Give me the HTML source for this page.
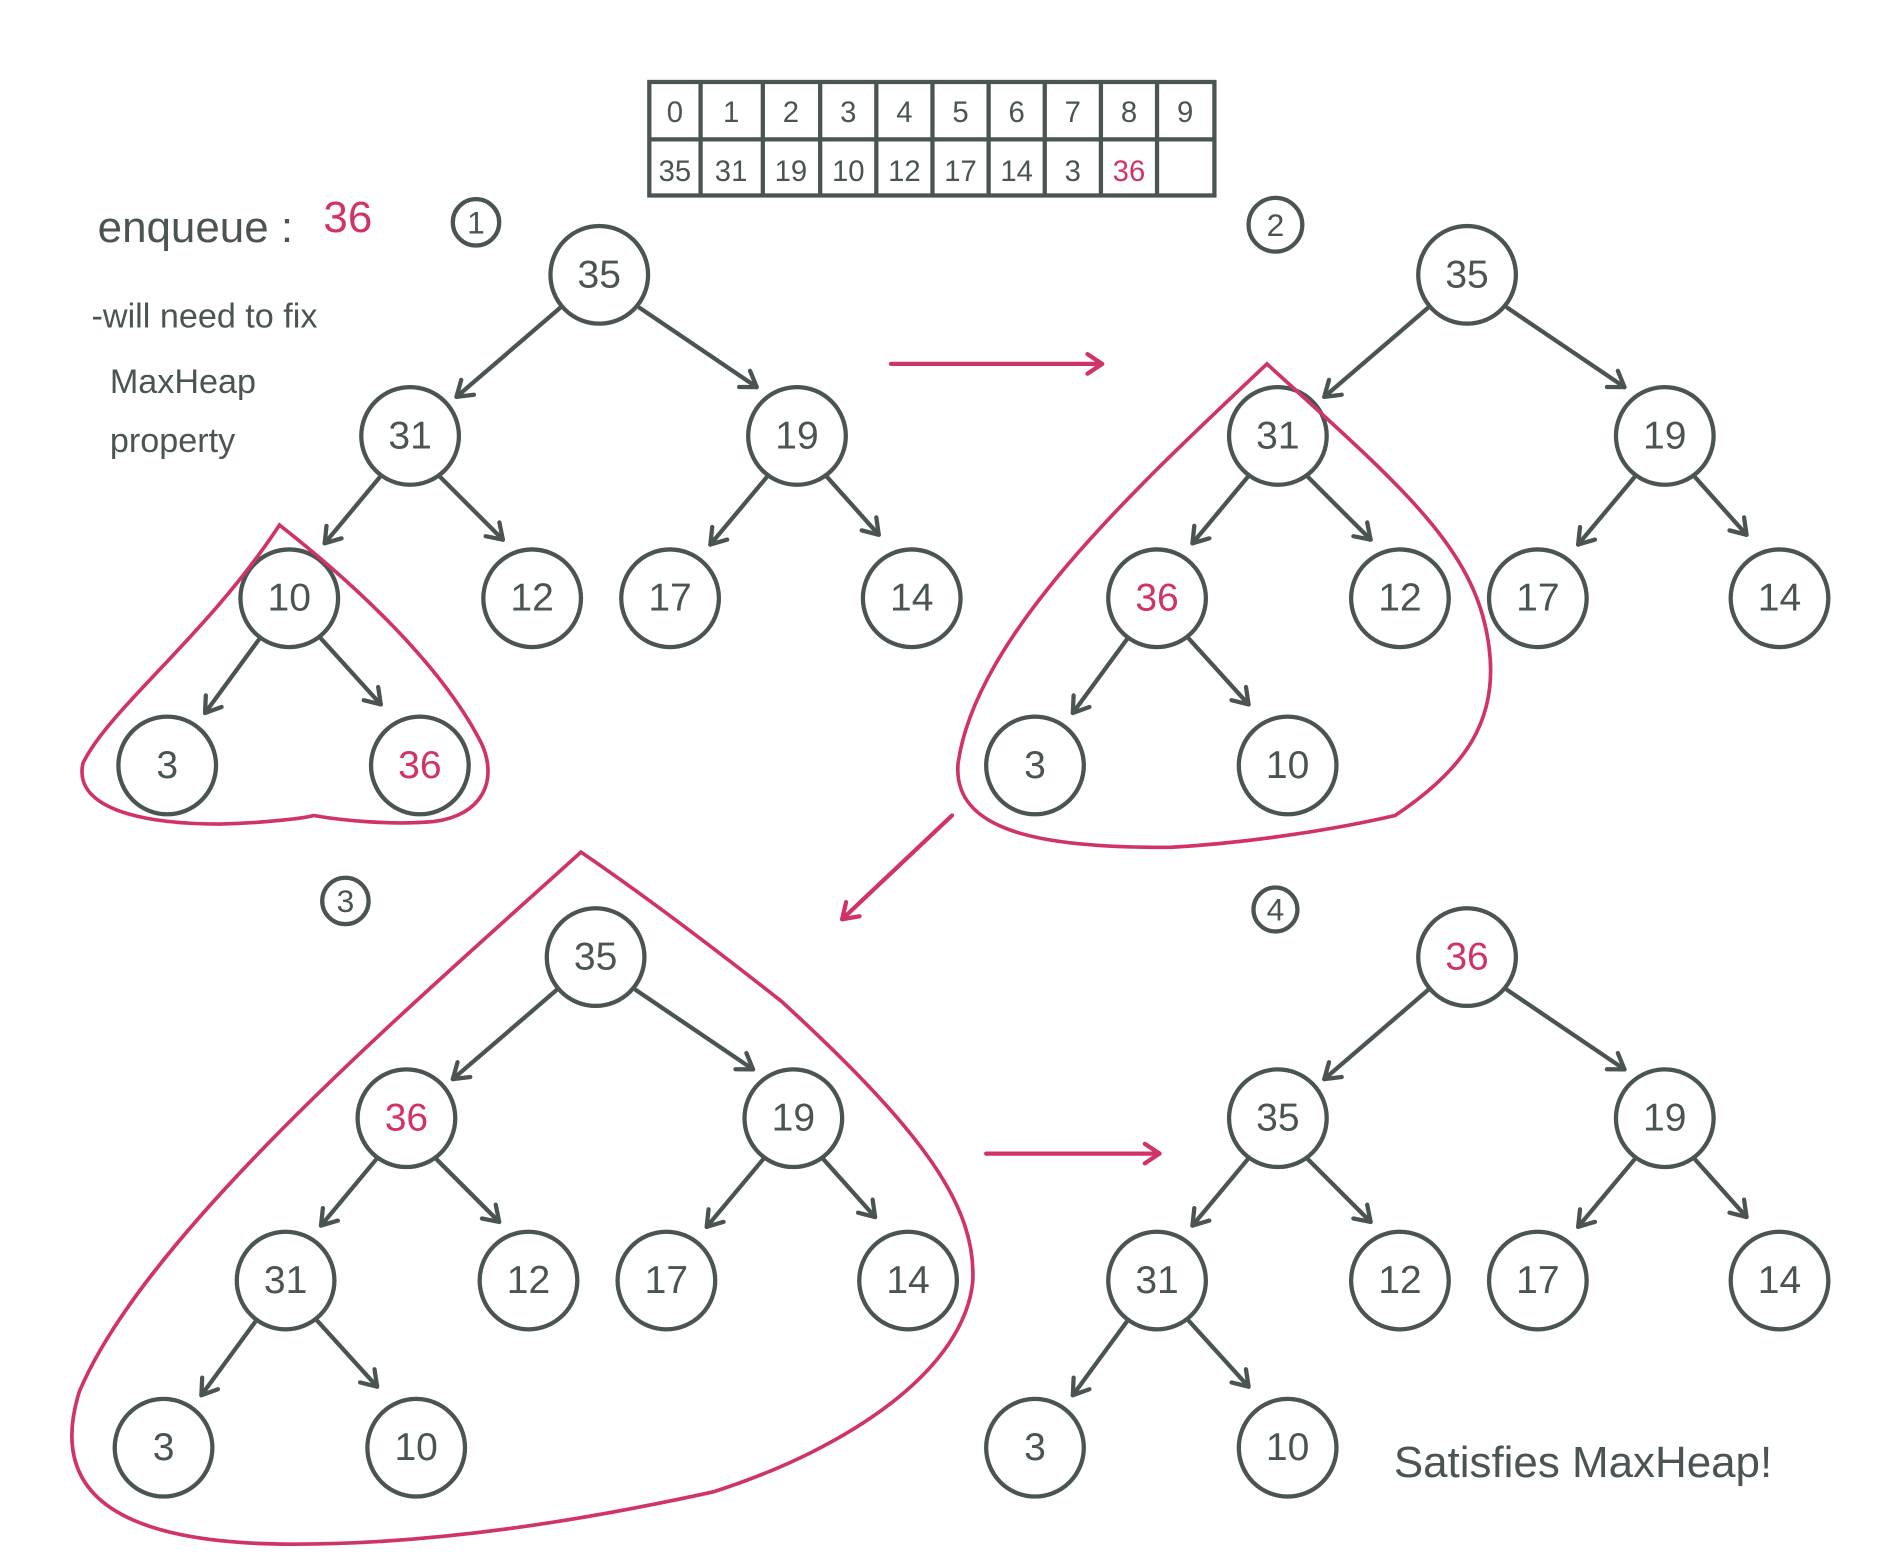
<!DOCTYPE html>
<html><head><meta charset="utf-8"><style>
html,body{margin:0;padding:0;background:#fff;}
svg{display:block}
text{font-family:"Liberation Sans Narrow","Liberation Sans",sans-serif;fill:#4a5553;}
.n{font-size:32px;text-anchor:middle;dominant-baseline:central;}
.p{fill:#d0336a;}
</style></head><body>
<svg width="1904" height="1559" viewBox="0 0 1560 1277" xmlns="http://www.w3.org/2000/svg">
<defs>
<marker id="a" markerUnits="userSpaceOnUse" markerWidth="30" markerHeight="30" refX="14" refY="10" orient="auto" viewBox="0 0 30 20">
<path d="M2,2 L14,10 L2,18" fill="none" stroke="#4a5553" stroke-width="3.5" stroke-linecap="round" stroke-linejoin="round"/></marker>
<marker id="ap" markerUnits="userSpaceOnUse" markerWidth="30" markerHeight="30" refX="14" refY="10" orient="auto" viewBox="0 0 30 20">
<path d="M2,2 L14,10 L2,18" fill="none" stroke="#d0336a" stroke-width="3.5" stroke-linecap="round" stroke-linejoin="round"/></marker>
<g id="tree" fill="none" stroke="#4a5553" stroke-width="3.5">
<g marker-end="url(#a)" stroke-linecap="round">
<line x1="459" y1="252" x2="374" y2="325"/>
<line x1="524" y1="252" x2="620" y2="317"/>
<line x1="311" y1="391" x2="266" y2="445"/>
<line x1="361" y1="391" x2="412" y2="442"/>
<line x1="628" y1="391" x2="582" y2="446"/>
<line x1="678" y1="391" x2="720" y2="438"/>
<line x1="212" y1="524" x2="168" y2="584"/>
<line x1="263" y1="523" x2="312" y2="577"/>
</g>
<circle cx="491" cy="225" r="40"/><circle cx="336" cy="357" r="40"/><circle cx="653" cy="357" r="40"/>
<circle cx="237" cy="490" r="40"/><circle cx="436" cy="490" r="40"/><circle cx="549" cy="490" r="40"/><circle cx="747" cy="490" r="40"/>
<circle cx="137" cy="627" r="40"/><circle cx="344" cy="627" r="40"/>
</g>
</defs>
<rect width="1560" height="1277" fill="#fff"/>

<!-- table -->
<g fill="none" stroke="#4a5553" stroke-width="3.5">
<rect x="532" y="67" width="463" height="93"/>
<line x1="532" y1="114" x2="995" y2="114"/>
<path d="M574 67V160M625 67V160M672 67V160M718 67V160M764 67V160M810 67V160M856 67V160M902 67V160M948 67V160"/>
</g>
<g font-size="24" text-anchor="middle">
<text x="553" y="100">0</text><text x="599" y="100">1</text><text x="648" y="100">2</text><text x="695" y="100">3</text><text x="741" y="100">4</text><text x="787" y="100">5</text><text x="833" y="100">6</text><text x="879" y="100">7</text><text x="925" y="100">8</text><text x="971" y="100">9</text>
<text x="553" y="148">35</text><text x="599" y="148">31</text><text x="648" y="148">19</text><text x="695" y="148">10</text><text x="741" y="148">12</text><text x="787" y="148">17</text><text x="833" y="148">14</text><text x="879" y="148">3</text><text x="925" y="148" class="p">36</text>
</g>

<!-- notes -->
<text x="80" y="198" font-size="36">enqueue :</text><text x="265" y="190" font-size="36" class="p">36</text>
<text x="75" y="268" font-size="28">-will need to fix</text>
<text x="90" y="322" font-size="28">MaxHeap</text>
<text x="90" y="370" font-size="28">property</text>
<text x="1142" y="1210" font-size="36">Satisfies MaxHeap!</text>

<!-- step numbers -->
<g fill="none" stroke="#4a5553" stroke-width="3.5">
<circle cx="390" cy="182" r="19"/><circle cx="1045" cy="184" r="22"/><circle cx="283" cy="738" r="19"/><circle cx="1045" cy="745" r="18"/>
</g>
<g font-size="26" text-anchor="middle" dominant-baseline="central">
<text x="390" y="182">1</text><text x="1045" y="184">2</text><text x="283" y="738">3</text><text x="1045" y="745">4</text>
</g>

<!-- trees -->
<use href="#tree"/>
<use href="#tree" transform="translate(711,0)"/>
<use href="#tree" transform="translate(-3,559)"/>
<use href="#tree" transform="translate(711,559)"/>

<g class="n">
<text class="n" x="491" y="225">35</text><text class="n" x="336" y="357">31</text><text class="n" x="653" y="357">19</text>
<text class="n" x="237" y="490">10</text><text class="n" x="436" y="490">12</text><text class="n" x="549" y="490">17</text><text class="n" x="747" y="490">14</text>
<text class="n" x="137" y="627">3</text><text class="n p" x="344" y="627">36</text>

<text class="n" x="1202" y="225">35</text><text class="n" x="1047" y="357">31</text><text class="n" x="1364" y="357">19</text>
<text class="n p" x="948" y="490">36</text><text class="n" x="1147" y="490">12</text><text class="n" x="1260" y="490">17</text><text class="n" x="1458" y="490">14</text>
<text class="n" x="848" y="627">3</text><text class="n" x="1055" y="627">10</text>

<text class="n" x="488" y="784">35</text><text class="n p" x="333" y="916">36</text><text class="n" x="650" y="916">19</text>
<text class="n" x="234" y="1049">31</text><text class="n" x="433" y="1049">12</text><text class="n" x="546" y="1049">17</text><text class="n" x="744" y="1049">14</text>
<text class="n" x="134" y="1186">3</text><text class="n" x="341" y="1186">10</text>

<text class="n p" x="1202" y="784">36</text><text class="n" x="1047" y="916">35</text><text class="n" x="1364" y="916">19</text>
<text class="n" x="948" y="1049">31</text><text class="n" x="1147" y="1049">12</text><text class="n" x="1260" y="1049">17</text><text class="n" x="1458" y="1049">14</text>
<text class="n" x="848" y="1186">3</text><text class="n" x="1055" y="1186">10</text>
</g>

<!-- pink loops -->
<g fill="none" stroke="#d0336a" stroke-width="3">
<path d="M229,430 C170,520 90,580 68,625 C60,660 110,675 180,675 C220,674 250,670 257,668 C280,672 320,676 355,673 C395,668 408,640 395,610 C360,540 280,470 229,430 Z"/>
<path d="M1038,298 C930,400 800,520 785,625 C780,680 850,695 960,694 C1030,690 1100,678 1143,668 C1200,630 1228,590 1220,530 C1210,450 1150,400 1038,298 Z"/>
<path d="M476,698 C330,830 120,1010 65,1140 C40,1220 90,1265 240,1265 C360,1265 480,1245 585,1222 C700,1185 790,1120 797,1050 C800,990 760,930 640,820 C570,765 520,728 476,698 Z"/>
</g>
<g stroke="#d0336a" stroke-width="3.5" stroke-linecap="round" marker-end="url(#ap)">
<line x1="730" y1="298" x2="903" y2="298"/>
<line x1="780" y1="668" x2="690" y2="753"/>
<line x1="808" y1="945" x2="950" y2="945"/>
</g>
</svg>
</body></html>
